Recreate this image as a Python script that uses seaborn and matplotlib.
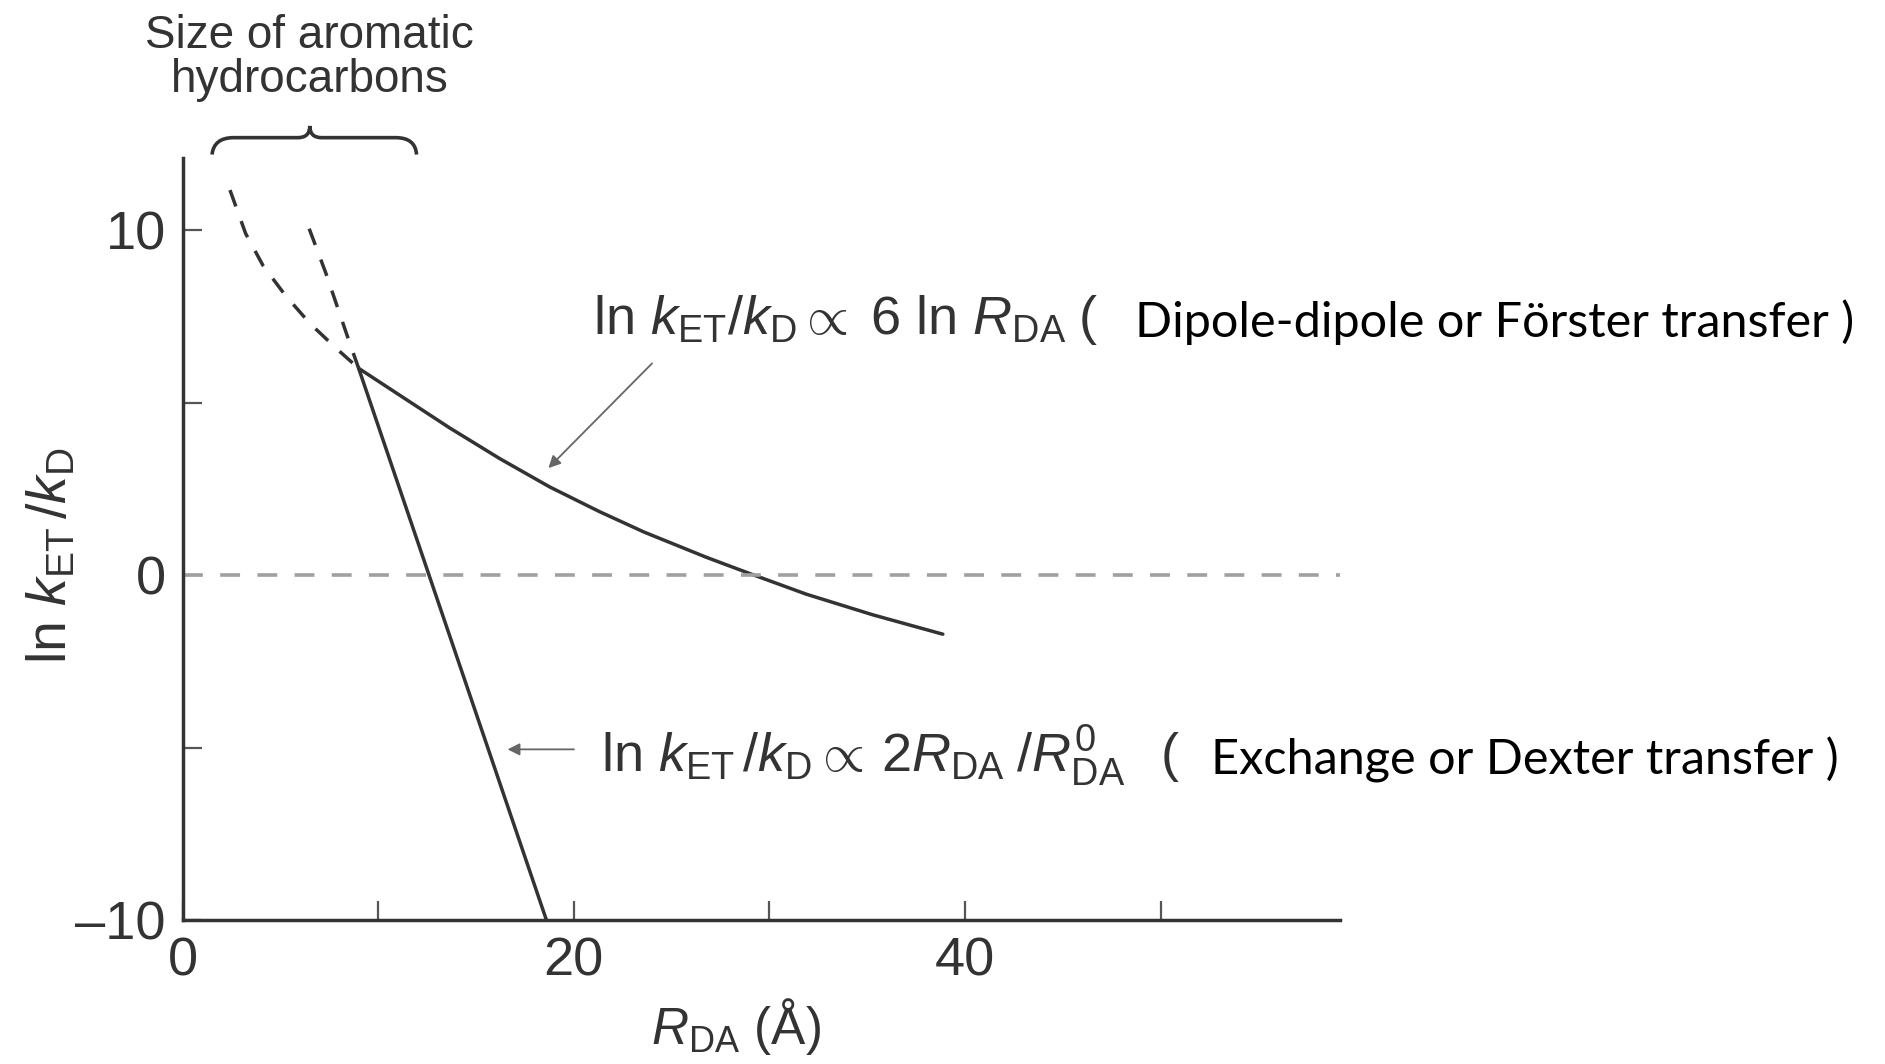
import matplotlib
matplotlib.use('Agg')
import matplotlib.pyplot as plt
from matplotlib.path import Path
from matplotlib.patches import PathPatch
import seaborn as sns

# values
forster_r = [9.0, 11.1, 13.66, 16.22, 18.77, 21.33, 23.6, 26.78, 28.99, 31.89, 35.3, 38.87]
forster_ln = [6.0, 5.22, 4.27, 3.38, 2.56, 1.84, 1.25, 0.52, 0.05, -0.55, -1.15, -1.71]
dexter_r = [9.0, 18.6]
dexter_ln = [6.0, -10.0]
extrap1_r = [2.42, 3.22, 4.12, 5.26, 6.51, 7.91, 9.0]
extrap1_ln = [11.17, 9.91, 8.97, 8.11, 7.30, 6.55, 6.0]
extrap2_r = [6.47, 7.31, 8.55, 9.0]
extrap2_ln = [10.05, 8.78, 6.72, 6.0]
zero_r = [0, 59.2]
zero_ln = [0, 0]

x_ticks = [0, 10, 20, 30, 40, 50]
x_ticklabels = ['0', '', '20', '', '40', '']
y_ticks = [-10, -5, 0, 5, 10]
y_ticklabels = ['\u201310', '', '0', '', '10']

sns.set_style('white')
plt.rcParams['font.family'] = ['Liberation Sans', 'DejaVu Sans']
plt.rcParams['mathtext.fontset'] = 'custom'
plt.rcParams['mathtext.rm'] = 'Liberation Sans'
plt.rcParams['mathtext.it'] = 'Liberation Sans:italic'

ink = '#333333'
fig = plt.figure(figsize=(18.85, 10.64), dpi=100)
ax = fig.add_axes([0.0969, 0.1353, 0.6142, 0.7162])

sns.lineplot(x=forster_r, y=forster_ln, ax=ax, color=ink, lw=2.5, sort=False, estimator=None)
sns.lineplot(x=dexter_r, y=dexter_ln, ax=ax, color=ink, lw=2.5, sort=False, estimator=None)
for xs, ys in [(extrap1_r, extrap1_ln), (extrap2_r, extrap2_ln)]:
    sns.lineplot(x=xs, y=ys, ax=ax, color=ink, lw=2.5, sort=False, estimator=None,
                 linestyle=(0, (5, 4.5)))
sns.lineplot(x=zero_r, y=zero_ln, ax=ax, color='#a0a0a0', lw=2.6, sort=False,
             estimator=None, linestyle=(0, (5.5, 4.8)))

ax.set_xlim(0, 59.2)
ax.set_ylim(-10, 12.1)
for s in ['top', 'right']:
    ax.spines[s].set_visible(False)
for s in ['left', 'bottom']:
    ax.spines[s].set_color(ink)
    ax.spines[s].set_linewidth(2.5)

ax.set_xticks(x_ticks)
ax.set_xticklabels(x_ticklabels)
ax.set_yticks(y_ticks)
ax.set_yticklabels(y_ticklabels)
ax.tick_params(bottom=True, left=True, direction='in', length=14, width=1.6,
               color='#555555', labelcolor=ink, labelsize=39)
ax.tick_params(axis='x', pad=12)
ax.tick_params(axis='y', pad=12)

ax.set_xlabel(r'$R_{\mathrm{DA}}$ (Å)', fontsize=37, color=ink)
ax.xaxis.set_label_coords(0.478, -0.1)
ax.set_ylabel(r'ln $k_{\mathrm{ET}}\,/k_{\mathrm{D}}$', fontsize=40, color=ink)
ax.yaxis.set_label_coords(-0.09, 0.478)

# brace over the short-distance region
verts = [(1.5, 12.2), (1.6, 12.69), (2.6, 12.69), (5.9, 12.69),
         (6.5, 12.69), (6.5, 13.03), (6.5, 12.69), (7.1, 12.69),
         (10.9, 12.69), (11.9, 12.69), (11.96, 12.2)]
codes = [Path.MOVETO, Path.CURVE3, Path.CURVE3, Path.LINETO,
         Path.CURVE3, Path.CURVE3, Path.CURVE3, Path.CURVE3,
         Path.LINETO, Path.CURVE3, Path.CURVE3]
ax.add_patch(PathPatch(Path(verts, codes), fill=False, ec=ink, lw=2.6, clip_on=False))
ax.text(6.5, 15.0, 'Size of aromatic\nhydrocarbons', ha='center', va='center',
        fontsize=33, color=ink, linespacing=1.0, clip_on=False)

# annotations
ax.annotate('', xy=(18.6, 3.05), xytext=(24.1, 6.2),
            arrowprops=dict(arrowstyle='-|>', color='#666666', lw=1.3, mutation_scale=18))
ax.annotate('', xy=(16.47, -5.05), xytext=(20.15, -5.05),
            arrowprops=dict(arrowstyle='-|>', color='#666666', lw=1.3, mutation_scale=18))

ax.text(20.97, 6.99,
        r'ln $k_{\mathrm{ET}}/k_{\mathrm{D}} \propto\;6$ ln $R_{\mathrm{DA}}\;$(',
        fontsize=39, color=ink, va='baseline', clip_on=False)
ax.text(48.7, 6.9, 'Dipole-dipole or Förster transfer )', fontsize=35, color='black',
        va='baseline', family=['Lato', 'DejaVu Sans'], clip_on=False)
ax.text(21.38, -5.69,
        r'ln $k_{\mathrm{ET}}\,/k_{\mathrm{D}} \propto\, 2R_{\mathrm{DA}}\;/R^{0}_{\mathrm{DA}}\;\,$ (',
        fontsize=39, color=ink, va='baseline', clip_on=False)
ax.text(52.6, -5.78, 'Exchange or Dexter transfer )', fontsize=35, color='black',
        va='baseline', family=['Lato', 'DejaVu Sans'], clip_on=False)

fig.savefig('out.png', dpi=100)
